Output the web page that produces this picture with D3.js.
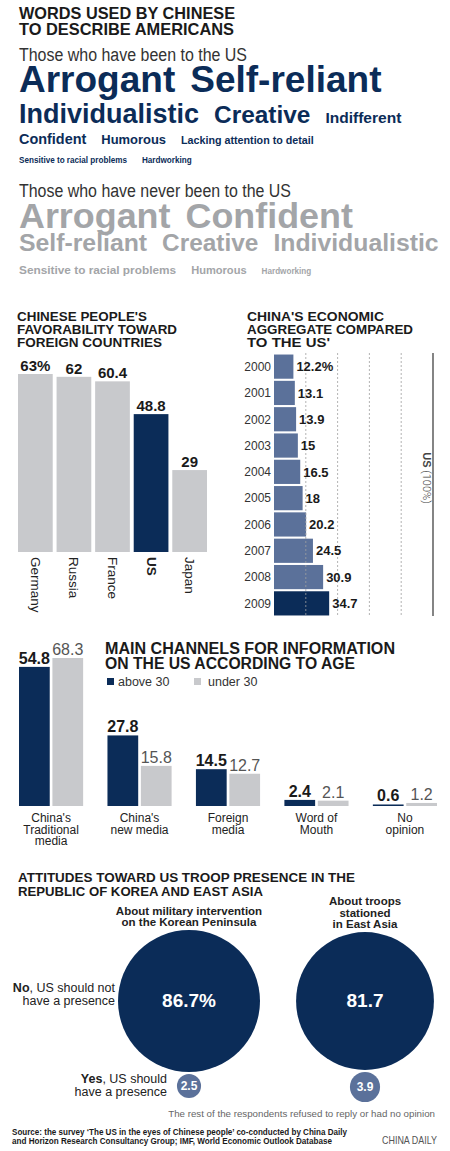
<!DOCTYPE html>
<html><head><meta charset="utf-8">
<script src="https://cdn.jsdelivr.net/npm/d3@7"></script>
<style>
body{margin:0;background:#fff;}
svg{display:block;}
text{font-family:"Liberation Sans",Arial,sans-serif;}
</style></head><body><svg id="c" width="450" height="1151"></svg>
<script>
// ---------------- DATA ----------------
const visitedRows = [["Arrogant","Self-reliant"],["Individualistic","Creative","Indifferent"],["Confident","Humorous","Lacking attention to detail"],["Sensitive to racial problems","Hardworking"]];
const visitedWeights = [[100,100],[73,66,42],[39,35,29],[22,22]];
const neverRows = [["Arrogant","Confident"],["Self-reliant","Creative","Individualistic"],["Sensitive to racial problems","Humorous","Hardworking"]];
const neverWeights = [[97,97],[67,66,67],[32,30,22]];

const favCountries = ["Germany","Russia","France","US","Japan"];
const favValues = [63,62,60.4,48.8,29];
const favLabels = ["63%","62","60.4","48.8","29"];

const econYears = ["2000","2001","2002","2003","2004","2005","2006","2007","2008","2009"];
const econValues = [12.2,13.1,13.9,15,16.5,18,20.2,24.5,30.9,34.7];
const econLabels = ["12.2%","13.1","13.9","15","16.5","18","20.2","24.5","30.9","34.7"];
const econTicks = [20,40,60,80];

const channelNames = ["China's Traditional media","China's new media","Foreign media","Word of Mouth","No opinion"];
const channelLines = [["China's","Traditional","media"],["China's","new media"],["Foreign","media"],["Word of","Mouth"],["No","opinion"]];
const ageGroups = ["above 30","under 30"];
const above30 = [54.8,27.8,14.5,2.4,0.6];
const under30 = [68.3,15.8,12.7,2.1,1.2];

const troopQuestions = ["About military intervention on the Korean Peninsula","About troops stationed in East Asia"];
const troopQuestionLines = [["About military intervention","on the Korean Peninsula"],["About troops","stationed","in East Asia"]];
const troopNo = [86.7,81.7];
const troopNoLabels = ["86.7%","81.7"];
const troopYes = [2.5,3.9];

// ---------------- STYLE ----------------
const NAVY="#0b2c58", STEEL="#5b719a", GRAY="#c8c9cc", WORDGRAY="#a3a5a8", INK="#1a1a1a";
const LIGHT='Roboto,"Liberation Sans",sans-serif';
const svg = d3.select("#c");
function fit(t,w){ t.attr("textLength",w).attr("lengthAdjust","spacingAndGlyphs"); return t; }
function fitSize(t,w){
  const s = +t.attr("font-size"), len = t.node().getComputedTextLength();
  if(len>0) t.attr("font-size", s*w/len);
  return t;
}
function title(lines, x, y0, lh, size, widths){
  lines.forEach((l,i)=>{
    const t = svg.append("text").attr("x",x).attr("y",y0+i*lh).attr("font-size",size)
      .attr("font-weight","bold").attr("fill",INK).text(l);
    if(widths && widths[i]) fit(t,widths[i]);
  });
}

// ---------------- WORD CLOUDS ----------------
title(["WORDS USED BY CHINESE","TO DESCRIBE AMERICANS"],19,19,16,16.5,[216,215]);
fit(svg.append("text").attr("x",19).attr("y",61).attr("font-family",LIGHT).attr("font-weight",300)
  .attr("font-size",18).attr("fill","#333").text("Those who have been to the US"),228);
fit(svg.append("text").attr("x",19).attr("y",197).attr("font-family",LIGHT).attr("font-weight",300)
  .attr("font-size",18).attr("fill","#333").text("Those who have never been to the US"),272);

const fontScale = d3.scaleLinear().domain([0,100]).range([0,37]);
function cloud(rows, weights, baselines, color){
  rows.forEach((row,ri)=>{
    let x = 19;
    row.forEach((w,wi)=>{
      const t = svg.append("text").attr("x",x).attr("y",baselines[ri])
        .attr("font-size",fontScale(weights[ri][wi])).attr("font-weight","bold")
        .attr("fill",color).text(w);
      x += t.node().getComputedTextLength() + 15;
    });
  });
}
cloud(visitedRows, visitedWeights, [92,123,144,163], NAVY);
cloud(neverRows, neverWeights, [228,251,274], WORDGRAY);

// ---------------- FAVORABILITY ----------------
title(["CHINESE PEOPLE'S","FAVORABILITY TOWARD","FOREIGN COUNTRIES"],17,321,13,13,[130,160,145]);
const fx = d3.scaleBand().domain(favCountries).range([18,207]).paddingInner(0.1);
const fy = d3.scaleLinear().domain([0,63]).range([552,374]);
const fav = favCountries.map((c,i)=>({c,v:favValues[i],l:favLabels[i]}));
svg.append("g").selectAll("rect").data(fav).join("rect")
  .attr("x",d=>fx(d.c)).attr("y",d=>fy(d.v)).attr("width",fx.bandwidth())
  .attr("height",d=>fy(0)-fy(d.v)).attr("fill",d=>d.c==="US"?NAVY:GRAY);
svg.append("g").selectAll("text").data(fav).join("text")
  .attr("x",d=>fx(d.c)+fx.bandwidth()/2).attr("y",d=>fy(d.v)-3)
  .attr("text-anchor","middle").attr("font-size",15).attr("font-weight","bold").attr("fill",INK)
  .text(d=>d.l);
svg.append("g").selectAll("text").data(fav).join("text")
  .attr("transform",d=>`translate(${fx(d.c)+fx.bandwidth()/2},557) rotate(90)`)
  .attr("dominant-baseline","central")
  .attr("font-family",d=>d.c==="US"?null:LIGHT).attr("font-weight",d=>d.c==="US"?"bold":300)
  .attr("font-size",13.5).attr("fill","#222").text(d=>d.c);

// ---------------- ECONOMIC AGGREGATE ----------------
title(["CHINA'S ECONOMIC","AGGREGATE COMPARED","TO THE US'"],247,321,13,13,[137,166,83]);
const ex = d3.scaleLinear().domain([0,100]).range([274,433]);
const ey = d3.scaleBand().domain(econYears).range([354,616]).paddingInner(0.08).paddingOuter(0.02);
const econ = econYears.map((y,i)=>({y,v:econValues[i],l:econLabels[i]}));
svg.append("g").selectAll("rect").data(econ).join("rect")
  .attr("x",ex(0)).attr("y",d=>ey(d.y)).attr("width",d=>ex(d.v)-ex(0))
  .attr("height",ey.bandwidth()).attr("fill",d=>d.y==="2009"?NAVY:STEEL);
svg.append("g").selectAll("line").data(econTicks).join("line")
  .attr("x1",d=>ex(d)).attr("x2",d=>ex(d)).attr("y1",353).attr("y2",616)
  .attr("stroke","#a0a0a0").attr("stroke-width",0.8).attr("stroke-dasharray","2,2");
svg.append("line").attr("x1",ex(100)).attr("x2",ex(100)).attr("y1",353).attr("y2",616)
  .attr("stroke","#333").attr("stroke-width",1.2);
svg.append("g").selectAll("text").data(econ).join("text")
  .attr("x",271).attr("y",d=>ey(d.y)+ey.bandwidth()/2).attr("dy","0.36em")
  .attr("text-anchor","end").attr("font-family",LIGHT).attr("font-weight",300)
  .attr("font-size",12).attr("fill","#333").text(d=>d.y);
svg.append("g").selectAll("text").data(econ).join("text")
  .attr("x",d=>ex(d.v)+3).attr("y",d=>ey(d.y)+ey.bandwidth()/2).attr("dy","0.36em")
  .attr("font-size",13).attr("font-weight","bold").attr("fill",INK).text(d=>d.l);
const usl = svg.append("text").attr("transform",`translate(423,478) rotate(90)`)
  .attr("text-anchor","middle").attr("font-size",11).attr("fill","#444");
usl.append("tspan").attr("font-weight","bold").text("US");
usl.append("tspan").attr("font-family",LIGHT).attr("font-weight",300).text(" (100%)");

// ---------------- CHANNELS ----------------
title(["MAIN CHANNELS FOR INFORMATION","ON THE US ACCORDING TO AGE"],105,654,15,16,[290,250]);
const ageColor = d3.scaleOrdinal().domain(ageGroups).range([NAVY,GRAY]);
const lg = svg.append("g");
[[107,118],[194,208]].forEach((p,i)=>{
  lg.append("rect").attr("x",p[0]).attr("y",678).attr("width",7).attr("height",7).attr("fill",ageColor(ageGroups[i]));
  lg.append("text").attr("x",p[1]).attr("y",686).attr("font-family",LIGHT).attr("font-weight",300)
    .attr("font-size",12.5).attr("fill","#333").text(ageGroups[i]);
});
const cx0 = d3.scaleBand().domain(channelNames).range([19,437]).paddingInner(0.275).paddingOuter(0);
const cx1 = d3.scaleBand().domain(ageGroups).range([0,cx0.bandwidth()]).paddingInner(0.08);
const cyS = d3.scaleLinear().domain([0,58.3]).range([806,658]).clamp(true);
const chData = [];
channelNames.forEach((c,i)=>{
  chData.push({c,g:ageGroups[0],v:above30[i]});
  chData.push({c,g:ageGroups[1],v:under30[i]});
});
svg.append("g").selectAll("rect").data(chData).join("rect")
  .attr("x",d=>cx0(d.c)+cx1(d.g)).attr("y",d=>cyS(d.v)).attr("width",cx1.bandwidth())
  .attr("height",d=>cyS(0)-cyS(d.v)).attr("fill",d=>ageColor(d.g));
svg.append("g").selectAll("text").data(chData).join("text")
  .attr("x",d=>cx0(d.c)+cx1(d.g)+cx1.bandwidth()/2).attr("y",d=>cyS(d.v)-3)
  .attr("text-anchor","middle").attr("font-size",16)
  .attr("font-family",d=>d.g===ageGroups[0]?null:LIGHT)
  .attr("font-weight",d=>d.g===ageGroups[0]?"bold":300)
  .attr("fill",d=>d.g===ageGroups[0]?INK:"#555").text(d=>d.v);
channelNames.forEach((c,i)=>{
  const t = svg.append("text").attr("text-anchor","middle").attr("font-family",LIGHT)
    .attr("font-size",12).attr("fill","#222");
  channelLines[i].forEach((l,j)=>{
    t.append("tspan").attr("x",cx0(c)+cx0.bandwidth()/2).attr("y",822+j*11.5).text(l);
  });
});

// ---------------- TROOPS ----------------
title(["ATTITUDES TOWARD US TROOP PRESENCE IN THE","REPUBLIC OF KOREA AND EAST ASIA"],18,882,13.5,13.4,[337,245]);
const tx = d3.scalePoint().domain(troopQuestions).range([189,365]);
const tr = d3.scaleSqrt().domain([0,86.7]).range([0,71]);
const bigCy = 1001;
troopQuestions.forEach((q,i)=>{
  const cx = tx(q), rb = tr(troopNo[i]), rs = tr(troopYes[i]);
  const lines = troopQuestionLines[i];
  lines.forEach((l,j)=>{
    svg.append("text").attr("x",cx).attr("y",bigCy-rb-4-(lines.length-1-j)*11.5)
      .attr("text-anchor","middle").attr("font-weight","bold")
      .attr("font-size",11.5).attr("fill","#222").text(l);
  });
  svg.append("circle").attr("cx",cx).attr("cy",bigCy).attr("r",rb).attr("fill",NAVY);
  svg.append("text").attr("x",cx).attr("y",bigCy+6).attr("text-anchor","middle")
    .attr("font-size",19).attr("font-weight","bold").attr("fill","#fff").text(troopNoLabels[i]);
  const scy = bigCy+rb+2+rs;
  svg.append("circle").attr("cx",cx).attr("cy",scy).attr("r",rs).attr("fill",STEEL);
  svg.append("text").attr("x",cx).attr("y",scy).attr("dy","0.36em").attr("text-anchor","middle")
    .attr("font-size",12).attr("font-weight","bold").attr("fill","#fff").text(troopYes[i]);
});
function sideLabel(x, y, bold, rest, line2){
  const t = svg.append("text").attr("text-anchor","end").attr("font-family",LIGHT)
    .attr("font-size",12.5).attr("fill","#222");
  const a = t.append("tspan").attr("x",x).attr("y",y);
  a.append("tspan").attr("font-weight",700).text(bold);
  a.append("tspan").text(rest);
  t.append("tspan").attr("x",x).attr("y",y+12.5).text(line2);
}
sideLabel(115,992,"No",", US should not","have a presence");
sideLabel(167,1083,"Yes",", US should","have a presence");

fitSize(svg.append("text").attr("x",435).attr("y",1117).attr("text-anchor","end").attr("font-family",LIGHT)
  .attr("font-weight",300).attr("font-size",11).attr("fill","#666")
  .text("The rest of the respondents refused to reply or had no opinion"),267);

// ---------------- SOURCE ----------------
fit(svg.append("text").attr("x",12).attr("y",1135).attr("font-size",9.5).attr("font-weight","bold").attr("fill",INK)
  .text("Source: the survey ‘The US in the eyes of Chinese people’ co-conducted by China Daily"),335);
fit(svg.append("text").attr("x",12).attr("y",1144).attr("font-size",9.5).attr("font-weight","bold").attr("fill",INK)
  .text("and Horizon Research Consultancy Group;  IMF, World Economic Outlook Database"),320);
fit(svg.append("text").attr("x",382).attr("y",1144).attr("font-family",LIGHT)
  .attr("font-size",10.5).attr("fill","#555").text("CHINA DAILY"),55);
</script></body></html>
